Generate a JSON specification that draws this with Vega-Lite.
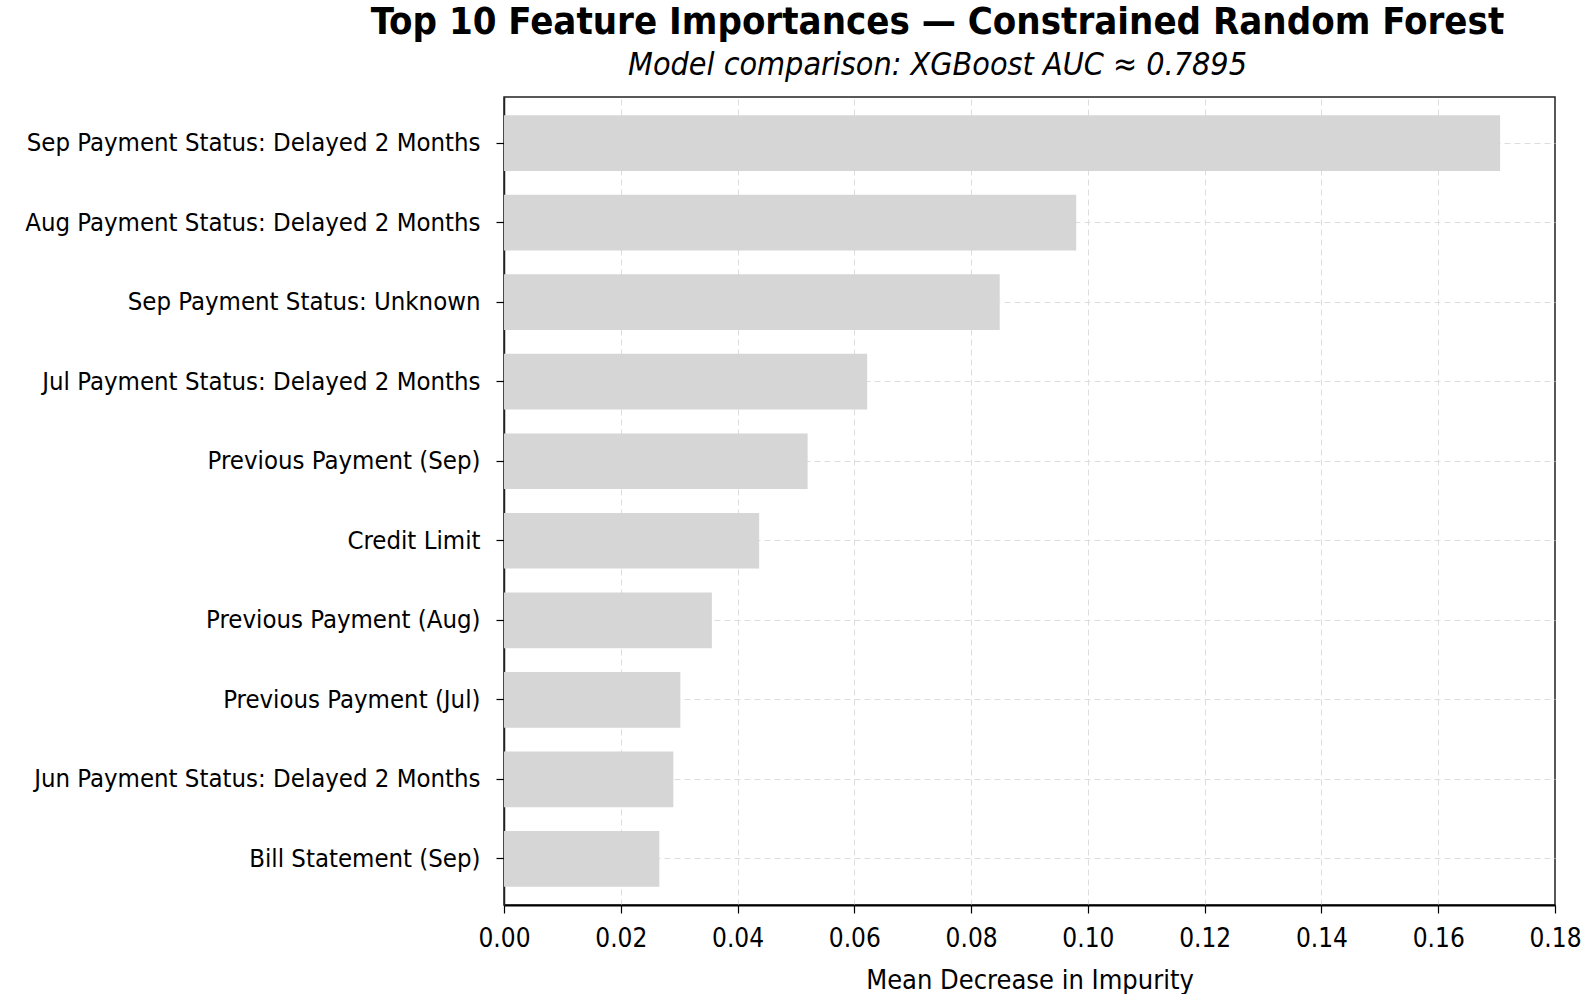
{
  "$schema": "https://vega.github.io/schema/vega-lite/v6.json",
  "autosize": "none",
  "padding": {"left": 504, "top": 97, "right": 28, "bottom": 89},
  "width": 1051,
  "height": 808,
  "background": "white",
  "title": {
    "text": "Top 10 Feature Importances — Constrained Random Forest",
    "subtitle": "Model comparison: XGBoost AUC ≈ 0.7895",
    "anchor": "middle",
    "dx": -92,
    "offset": 16,
    "font": "DejaVu Sans Condensed, Roboto Condensed, sans-serif",
    "fontSize": 38,
    "fontWeight": "bold",
    "color": "black",
    "subtitleFont": "DejaVu Sans Condensed, Roboto Condensed, sans-serif",
    "subtitleFontSize": 32,
    "subtitleFontStyle": "italic",
    "subtitleColor": "black",
    "subtitlePadding": 8
  },
  "data": {
    "values": [
      {"feature": "Sep Payment Status: Delayed 2 Months", "importance": 0.1706},
      {"feature": "Aug Payment Status: Delayed 2 Months", "importance": 0.0980},
      {"feature": "Sep Payment Status: Unknown", "importance": 0.0849},
      {"feature": "Jul Payment Status: Delayed 2 Months", "importance": 0.0622},
      {"feature": "Previous Payment (Sep)", "importance": 0.0520},
      {"feature": "Credit Limit", "importance": 0.0437},
      {"feature": "Previous Payment (Aug)", "importance": 0.0356},
      {"feature": "Previous Payment (Jul)", "importance": 0.0302},
      {"feature": "Jun Payment Status: Delayed 2 Months", "importance": 0.0290},
      {"feature": "Bill Statement (Sep)", "importance": 0.0266}
    ]
  },
  "mark": {"type": "bar", "color": "#d6d6d6"},
  "encoding": {
    "y": {
      "field": "feature",
      "type": "nominal",
      "sort": null,
      "scale": {"paddingInner": 0.3, "paddingOuter": 0.23},
      "axis": {
        "title": null,
        "bandPosition": 0.5,
        "grid": true,
        "gridDash": [6, 4],
        "gridColor": "#dddddd",
        "gridWidth": 1,
        "domain": true,
        "domainColor": "#222222",
        "domainWidth": 1.5,
        "ticks": true,
        "tickColor": "black",
        "tickSize": 8,
        "tickWidth": 1.2,
        "labelFont": "DejaVu Sans Condensed, Roboto Condensed, sans-serif",
        "labelFontSize": 25.5,
        "labelColor": "black",
        "labelPadding": 16,
        "labelLimit": 600
      }
    },
    "x": {
      "field": "importance",
      "type": "quantitative",
      "scale": {"domain": [0, 0.18], "nice": false, "zero": true},
      "axis": {
        "title": "Mean Decrease in Impurity",
        "titleFont": "DejaVu Sans Condensed, Roboto Condensed, sans-serif",
        "titleFontSize": 27,
        "titleFontWeight": "normal",
        "titleColor": "black",
        "titlePadding": 16,
        "values": [0, 0.02, 0.04, 0.06, 0.08, 0.1, 0.12, 0.14, 0.16, 0.18],
        "format": ".2f",
        "grid": true,
        "gridDash": [6, 4],
        "gridColor": {"condition": {"test": "datum.value <= 0.001 || datum.value >= 0.179", "value": "transparent"}, "value": "#dddddd"},
        "gridWidth": 1,
        "domain": true,
        "domainColor": "black",
        "domainWidth": 2,
        "ticks": true,
        "tickColor": "black",
        "tickSize": 8,
        "tickWidth": 1.2,
        "labelFont": "DejaVu Sans Condensed, Roboto Condensed, sans-serif",
        "labelFontSize": 26,
        "labelColor": "black",
        "labelPadding": 12,
        "labelFlush": false
      }
    }
  },
  "config": {
    "view": {"stroke": "#222222", "strokeWidth": 1.5}
  }
}
